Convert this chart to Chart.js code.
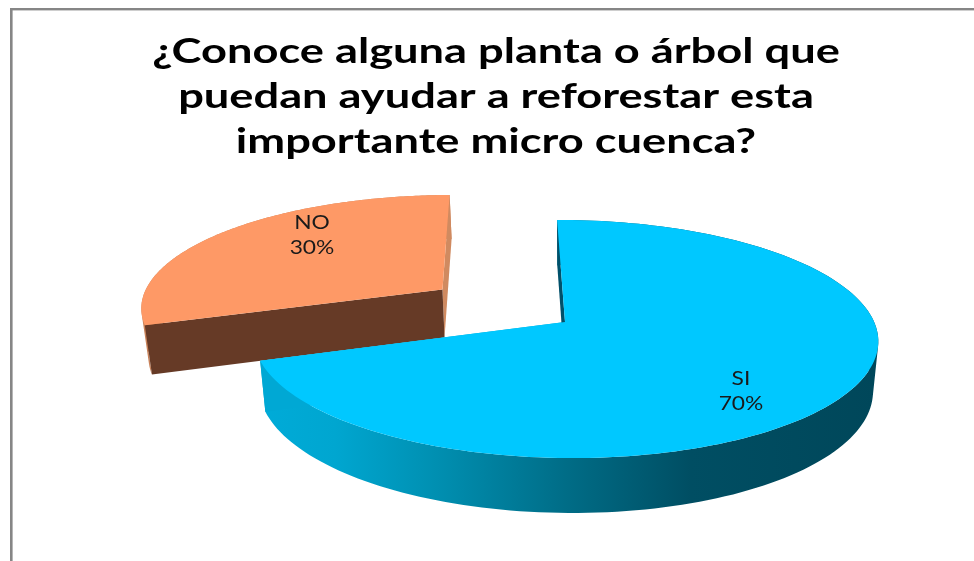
<!DOCTYPE html>
<html>
<head>
<meta charset="utf-8">
<style>html,body{margin:0;padding:0;background:#fff}canvas{display:block}</style>
<script src="https://cdn.jsdelivr.net/npm/chart.js@4"></script>
</head>
<body>
<canvas id="c" width="974" height="561"></canvas>
<script>
const categories = ['SI', 'NO'];
const percentValues = [70, 30];
const titleLines = ['¿Conoce alguna planta o árbol que', 'puedan ayudar a reforestar esta', 'importante micro cuenca?'];
const sliceColors = ['#00C8FF', '#FE9966'];
const explode = [0, 78];
const labelAnchors = [[741, 379], [312, 223]];
const titleStretch = 1.33;
const labelStretch = 1.2;

// 3D look: perspective of the pie plane (unit circle -> screen)
const P = {ax: 565, ay: 322, a: 309, b: 9, c: -1, d: 116.6, k: 1 / 7, j: -0.001};
function project(u, v) {
  const w = 1 - P.k * v - P.j * u;
  return [P.ax + (P.a * u + P.b * v) / w, P.ay + (P.c * u + P.d * v) / w];
}
function lower(p) {
  return [565 + 0.983 * (p[0] - 565), p[1] + 48 + 0.041 * (p[1] - 289)];
}
function pathOf(ctx, pts) {
  ctx.beginPath();
  pts.forEach((p, i) => i ? ctx.lineTo(p[0], p[1]) : ctx.moveTo(p[0], p[1]));
  ctx.closePath();
}
function signedArea(q) {
  let s = 0;
  q.forEach((p, i) => {
    const n = q[(i + 1) % q.length];
    s += p[0] * n[1] - n[0] * p[1];
  });
  return s;
}
function sliceGeometry(el) {
  const d = (el.options.offset || 0) / el.outerRadius;
  const mid = (el.startAngle + el.endAngle) / 2;
  const ox = d * Math.cos(mid), oy = d * Math.sin(mid);
  const arc = [];
  const n = 160;
  for (let i = 0; i <= n; i++) {
    const t = el.startAngle + (el.endAngle - el.startAngle) * i / n;
    arc.push(project(ox + Math.cos(t), oy + Math.sin(t)));
  }
  return {apex: project(ox, oy), arc};
}
const wallStyles = [
  {
    cutFirst: '#00506A', cutLast: '#00A8D4',
    outer(ctx) {
      const g = ctx.createLinearGradient(262, 0, 875, 0);
      g.addColorStop(0, '#00ABD8');
      g.addColorStop(0.12, '#00A6D0');
      g.addColorStop(0.28, '#0090B2');
      g.addColorStop(0.5, '#006C86');
      g.addColorStop(0.7, '#004E63');
      g.addColorStop(1, '#00475A');
      return g;
    }
  },
  {
    cutFirst: '#663A26', cutLast: '#D08A60',
    outer() { return '#C98259'; }
  }
];
const pie3d = {
  id: 'pie3d',
  beforeDraw(chart) {
    const ctx = chart.ctx;
    ctx.save();
    ctx.fillStyle = '#ffffff';
    ctx.fillRect(0, 0, chart.width, chart.height);
    ctx.fillStyle = '#868686';
    ctx.fillRect(10, 8, chart.width - 10, 2.4);
    ctx.fillRect(10, 8, 2.6, chart.height - 8);
    ctx.restore();
    // the reference title is horizontally stretched
    const tb = chart.titleBlock;
    if (tb && !tb._stretched) {
      const draw = tb.draw.bind(tb);
      tb._stretched = true;
      tb.draw = function () {
        const cx = tb.left + tb.width / 2;
        ctx.save();
        ctx.translate(cx, 0);
        ctx.scale(titleStretch, 1);
        ctx.translate(-cx, 0);
        draw();
        ctx.restore();
      };
    }
  },
  beforeDatasetDraw(chart, args) {
    const ctx = chart.ctx;
    const arcs = chart.getDatasetMeta(args.index).data;
    ctx.save();
    [1, 0].forEach(i => {
      const el = arcs[i];
      const g = sliceGeometry(el);
      const st = wallStyles[i];
      const first = g.arc[0], last = g.arc[g.arc.length - 1];
      // rim: one path of same-winding quads, so no seams and a tangent silhouette
      ctx.beginPath();
      for (let k = 0; k < g.arc.length - 1; k++) {
        let q = [g.arc[k], g.arc[k + 1], lower(g.arc[k + 1]), lower(g.arc[k])];
        if (signedArea(q) < 0) q = q.reverse();
        q.forEach((p, m) => m ? ctx.lineTo(p[0], p[1]) : ctx.moveTo(p[0], p[1]));
        ctx.closePath();
      }
      ctx.fillStyle = st.outer(ctx);
      ctx.fill();
      // flat cut faces
      pathOf(ctx, [g.apex, last, lower(last), lower(g.apex)]);
      ctx.fillStyle = st.cutLast;
      ctx.fill();
      pathOf(ctx, [g.apex, first, lower(first), lower(g.apex)]);
      ctx.fillStyle = st.cutFirst;
      ctx.fill();
      // top face
      pathOf(ctx, [g.apex].concat(g.arc));
      ctx.fillStyle = el.options.backgroundColor;
      ctx.fill();
    });
    ctx.restore();
    return false;
  },
  afterDatasetsDraw(chart) {
    const ctx = chart.ctx;
    categories.forEach((c, i) => {
      const [x, y] = labelAnchors[i];
      ctx.save();
      ctx.fillStyle = '#1a1a1a';
      ctx.font = '19px Lato';
      ctx.textAlign = 'center';
      ctx.textBaseline = 'middle';
      ctx.translate(x, y);
      ctx.scale(labelStretch, 1);
      ctx.fillText(c, 0, 0);
      ctx.fillText(percentValues[i] + '%', 0, 25);
      ctx.restore();
    });
  }
};
new Chart(document.getElementById('c'), {
  type: 'pie',
  data: {
    labels: categories,
    datasets: [{
      data: percentValues,
      backgroundColor: sliceColors,
      borderWidth: 0,
      offset: explode
    }]
  },
  options: {
    responsive: false,
    animation: false,
    layout: {padding: {left: 18}},
    events: [],
    plugins: {
      legend: {display: false},
      tooltip: {enabled: false},
      title: {
        display: true,
        text: titleLines,
        color: '#000000',
        padding: {top: 30, bottom: 6},
        font: {family: 'Lato', weight: 'bold', size: 34, lineHeight: 45 / 34}
      }
    }
  },
  plugins: [pie3d]
});
</script>
</body>
</html>
